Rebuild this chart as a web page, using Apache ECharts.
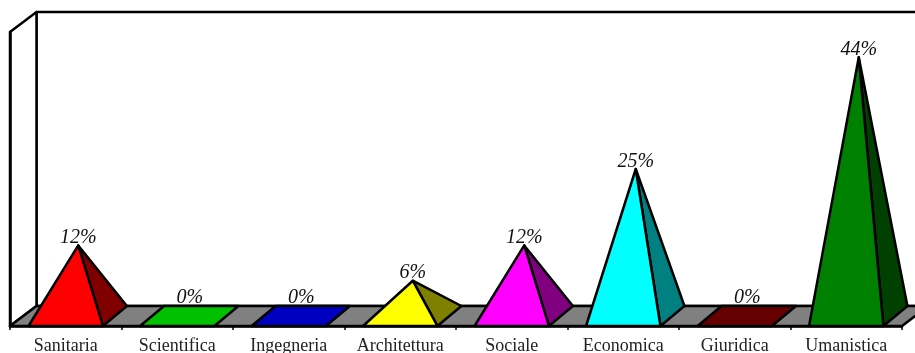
<!DOCTYPE html>
<html>
<head>
<meta charset="utf-8">
<style>html,body{margin:0;padding:0;background:#fff}#c{width:915px;height:353px}</style>
<script src="https://cdn.jsdelivr.net/npm/echarts@6/dist/echarts.min.js"></script>
</head>
<body>
<div id="c"></div>
<script>
const categories = ['Sanitaria','Scientifica','Ingegneria','Architettura','Sociale','Economica','Giuridica','Umanistica'];
const percentages = [12,0,0,6,12,25,0,44];
const frontColors = ['#ff0000','#00c000','#0000c0','#ffff00','#ff00ff','#00ffff','#660000','#008000'];
const sideColors  = ['#800000','#006000','#000060','#808000','#800080','#008080','#330000','#004000'];
const DEPTH_X = 26.5, DEPTH_Y = 20, PYR_X = 24;
const stroke = {stroke:'#000', lineWidth:2.5, lineJoin:'round'};

const chart = echarts.init(document.getElementById('c'), null, {renderer:'canvas'});

function renderRoom(params, api){
  const r = params.coordSys;
  const x0 = r.x, x1 = r.x + r.width, yB = r.y + r.height, yT = r.y;
  const poly = (pts, fill) => ({type:'polygon', shape:{points:pts}, style:Object.assign({fill}, stroke)});
  return {type:'group', children:[
    poly([[x0+DEPTH_X,yB-DEPTH_Y],[x0+DEPTH_X,yT-DEPTH_Y],[x1+DEPTH_X,yT-DEPTH_Y],[x1+DEPTH_X,yB-DEPTH_Y]],'#fff'),
    poly([[x0,yB],[x0,yT],[x0+DEPTH_X,yT-DEPTH_Y],[x0+DEPTH_X,yB-DEPTH_Y]],'#fff'),
    poly([[x0,yB],[x0+DEPTH_X,yB-DEPTH_Y],[x1+DEPTH_X,yB-DEPTH_Y],[x1,yB]],'#808080')
  ]};
}

function renderPyramid(params, api){
  const i = api.value(0), v = api.value(1);
  const base = api.coord([i,0]), top = api.coord([i,v]);
  const band = api.size([1,0])[0];
  const half = band/3;
  const fl = [base[0]-half, base[1]], fr = [base[0]+half, base[1]];
  const bl = [fl[0]+PYR_X, fl[1]-DEPTH_Y], br = [fr[0]+PYR_X, fr[1]-DEPTH_Y];
  const apex = [top[0]+PYR_X/2+0.5, top[1]-DEPTH_Y/2];
  const poly = (pts, fill) => ({type:'polygon', shape:{points:pts}, style:Object.assign({fill}, stroke)});
  const children = v === 0
    ? [poly([fl,bl,br,fr], api.visual('color'))]
    : [poly([fr,br,apex], sideColors[i]), poly([fl,fr,apex], api.visual('color'))];
  children.push({type:'text', style:{
    x:apex[0], y:v === 0 ? bl[1]-8 : apex[1]-7.5, text:v+'%', align:'center', verticalAlign:'middle',
    font:'italic 20px "Liberation Serif"', fill:'#111'}});
  return {type:'group', children};
}

chart.setOption({
  animation:false,
  backgroundColor:'#fff',
  grid:{left:10, right:13, top:32, bottom:27, containLabel:false, outerBoundsMode:'none'},
  xAxis:{type:'category', data:categories, z:5,
    axisLine:{show:true, lineStyle:{color:'#000', width:2.5}},
    axisTick:{show:true, alignWithLabel:false, length:4, lineStyle:{color:'#000', width:1.5}},
    axisLabel:{interval:0, margin:11, color:'#222', fontFamily:'Liberation Serif', fontSize:18},
    splitLine:{show:false}},
  yAxis:{type:'value', min:0, max:50, interval:10, z:5,
    axisLine:{show:true, lineStyle:{color:'#000', width:2.5}},
    axisTick:{show:false}, axisLabel:{show:false}, splitLine:{show:false}},
  series:[
    {type:'custom', z:1, silent:true, clip:false, renderItem:renderRoom, data:[[0,0]],
     encode:{x:0,y:1}},
    {type:'custom', z:6, silent:true, clip:false, renderItem:renderPyramid,
     encode:{x:0,y:1},
     data:percentages.map((v,i)=>({value:[i,v], itemStyle:{color:frontColors[i]}}))}
  ]
});
</script>
</body>
</html>
